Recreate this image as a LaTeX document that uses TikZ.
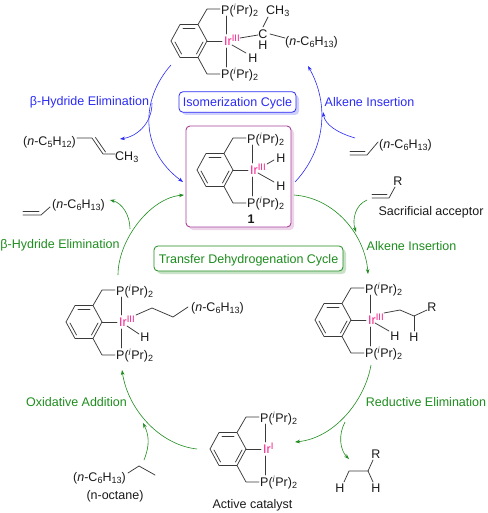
\documentclass[tikz,border=0pt]{standalone}
\usepackage{fontspec}
\setmainfont{Liberation Sans}
\usetikzlibrary{arrows.meta}
\definecolor{ink}{HTML}{3A3A3A}
\definecolor{txt}{HTML}{1A1A1A}
\definecolor{irpink}{HTML}{F0208C}
\definecolor{cblue}{HTML}{2B2BF5}
\definecolor{cgreen}{HTML}{1E8C1E}
\definecolor{cpurple}{HTML}{A8409C}
\newcommand{\sbs}[1]{\raisebox{-0.3ex}{\fontsize{9}{9}\selectfont #1}}
\newcommand{\phos}{P(\textsuperscript{\textit{i}}Pr)\sbs{2}}
\newcommand{\hex}{(\textit{n}-C\sbs{6}H\sbs{13})}
\newcommand{\irsup}[1]{\raisebox{0.55ex}{\fontsize{9.5}{9.5}\selectfont #1}}
\tikzset{
  x=1pt,y=-1pt,
  bond/.style={draw=ink,line width=0.75pt,line cap=round,line join=round},
  tc/.style={inner sep=0pt,anchor=base,yshift=-4.5pt,text=txt,font=\fontsize{12.5}{14}\selectfont},
  tw/.style={tc,anchor=base west},
  te/.style={tc,anchor=base east},
  irn/.style={tw,text=irpink},
  bluet/.style={tc,text=cblue},
  greent/.style={tc,text=cgreen},
  barc/.style={draw=cblue,line width=0.6pt,-{Stealth[length=5pt,width=3.6pt]}},
  garc/.style={draw=cgreen,line width=0.6pt,-{Stealth[length=5pt,width=3.6pt]}},
}
\newcommand{\pincer}[4]{%
\begin{scope}[shift={(#2,#3)}]
  \draw[bond] (-19,0) -- (-28,-16.5) -- (-46,-16.5) -- (-55,0) -- (-46,16.5) -- (-28,16.5) -- cycle;
  \draw[bond] (-31,-13) -- (-43,-13);
  \draw[bond] (-51,1) -- (-44.5,13);
  \draw[bond] (-23,1) -- (-29.5,13);
  \draw[bond] (-28,-16.5) -- (-19,-32) -- (-6,-32);
  \draw[bond] (-28,16.5) -- (-19,33) -- (-6,33);
  \draw[bond] (-19,0) -- (-4,0);
  \draw[bond] (0,-25) -- (0,-7);
  \draw[bond] (0,7) -- (0,26);
  \node[tw] (#1pt) at (-5,-31) {\phos};
  \node[tw] (#1pb) at (-5,33) {\phos};
  \node[irn] (#1ir) at (-2,0) {Ir\irsup{#4}};
\end{scope}}
\begin{document}
\begin{tikzpicture}
\useasboundingbox (0,0) rectangle (487,513);
% boxes
\fill[rounded corners=4pt,fill=cblue!22] (182,95) rectangle (299,115);
\fill[rounded corners=4pt,fill=cpurple!22] (189,129) rectangle (294,230);
\fill[rounded corners=4pt,fill=cgreen!25] (157,249) rectangle (346,274);
\node[draw=cblue,line width=0.8pt,rounded corners=4pt,fill=white,minimum width=117pt,minimum height=20.5pt,inner sep=0pt] (isobox) at (237.5,102) {};
\node[bluet] (isolab) at (237.5,102) {Isomerization Cycle};
\node[draw=cpurple,line width=0.9pt,rounded corners=4pt,fill=white,minimum width=105pt,minimum height=101pt,inner sep=0pt] (catbox) at (238.5,176.5) {};
\node[draw=cgreen,line width=0.8pt,rounded corners=4pt,fill=white,minimum width=189pt,minimum height=25pt,inner sep=0pt] (tdbox) at (248.5,258.5) {};
\node[greent] (tdlab) at (248.5,259) {Transfer Dehydrogenation Cycle};
% complexes
\pincer{a}{226}{41}{III}
\pincer{b}{252}{170}{III}
\pincer{c}{121}{322}{III}
\pincer{d}{370}{320}{III}
\pincer{e}{265}{449}{I}
% top complex ligands
\draw[bond] (240,38) -- (258,35);
\node[tc] (ac) at (263,34) {C};
\node[tc] (ah) at (263,45) {H};
\node[tw] (ach) at (266,10) {CH\sbs{3}};
\draw[bond] (263,27) -- (268,17);
\draw[bond] (270,34) -- (285,38);
\node[tw] (ahx) at (285,41) {\hex};
\draw[bond] (232,45) -- (246,53);
\node[tc] (aH) at (253,58) {H};
% centre
\draw[bond] (267,164) -- (274,160);
\draw[bond] (258,173) -- (274,182);
\node[tc] (bh1) at (281,158) {H};
\node[tc] (bh2) at (281,186) {H};
\node[tc,font=\fontsize{12.5}{14}\selectfont\bfseries] (one) at (251,219) {1};
% left complex
\draw[bond] (136,315) -- (152,308) -- (173,317) -- (188,307);
\node[tw] (chx) at (191,307) {\hex};
\draw[bond] (127,326) -- (139,334);
\node[tc] (cH) at (145,337) {H};
% right complex
\draw[bond] (384,313) -- (400,310) -- (414,316) -- (427,310);
\draw[bond] (414,316) -- (414,331);
\node[tc] (dR) at (432,307) {R};
\node[tc] (dH2) at (414,337) {H};
\draw[bond] (375,323) -- (389,331);
\node[tc] (dH) at (395,336) {H};
% pentene product
\node[tw] (pl) at (23,141) {(\textit{n}-C\sbs{5}H\sbs{12})};
\draw[bond] (77,138) -- (92,138) -- (103,154) -- (115,154);
\draw[bond] (95.5,137.5) -- (105.5,152);
\node[tw] (pch) at (115,156) {CH\sbs{3}};
% octene top right
\draw[bond] (350,155) -- (367,155) -- (378,142);
\draw[bond] (350,151.5) -- (365,151.5);
\node[tw] (ohx) at (379,144) {\hex};
% sacrificial acceptor
\draw[bond] (372,198) -- (389,198) -- (395,187);
\draw[bond] (372,194.5) -- (387,194.5);
\node[tc] (sR) at (398,181) {R};
\node[tc] (slab) at (431,211) {Sacrificial acceptor};
% octene left
\draw[bond] (23,215) -- (41,215) -- (50,207);
\draw[bond] (23,211.5) -- (39,211.5);
\node[tw] (lhx) at (52,204) {\hex};
% alkane product
\draw[bond] (373,460) -- (368,471) -- (349,471) -- (344,482);
\draw[bond] (368,471) -- (373,482);
\node[tc] (xR) at (376,454) {R};
\node[tc] (xH1) at (340,488) {H};
\node[tc] (xH2) at (376,488) {H};
% octane
\node[tw] (ohl) at (73,477) {\hex};
\draw[bond] (128,473) -- (139,466) -- (155,475);
\node[tc] (olab) at (115,495) {(n-octane)};
\node[tc] (alab) at (252.5,504) {Active catalyst};
% labels
\node[bluet] (l1) at (89.5,101) {β-Hydride Elimination};
\node[bluet] (l2) at (369.5,102) {Alkene Insertion};
\node[greent] (l3) at (60,244) {β-Hydride Elimination};
\node[greent] (l4) at (411.5,246) {Alkene Insertion};
\node[greent] (l5) at (76.5,402) {Oxidative Addition};
\node[greent] (l6) at (426,402) {Reductive Elimination};
% connector ends
\coordinate (b1s) at (171,65); \coordinate (b1e) at (183,182);
\coordinate (b2s) at (152,103); \coordinate (b2e) at (120,139);
\coordinate (b3s) at (295,182); \coordinate (b3e) at (308,66);
\coordinate (b4s) at (355,138); \coordinate (b4e) at (323,112);
\coordinate (g1s) at (294,195); \coordinate (g1e) at (368,274);
\coordinate (g2s) at (367,200); \coordinate (g2e) at (356,232);
\coordinate (g3s) at (371,365); \coordinate (g3e) at (295,442);
\coordinate (g4s) at (345,422); \coordinate (g4e) at (349,459);
\coordinate (g5s) at (197,449); \coordinate (g5e) at (122,370);
\coordinate (g6s) at (144,460); \coordinate (g6e) at (143,423);
\coordinate (g7s) at (118,275); \coordinate (g7e) at (184,195);
\coordinate (g8s) at (130,229); \coordinate (g8e) at (110,200);
% blue arrows
\draw[barc] (b1s) .. controls (140,100) and (140,150) .. (b1e);
\draw[barc] (b2s) .. controls (152,125) and (135,137) .. (b2e);
\draw[barc] (b3s) .. controls (325,150) and (330,105) .. (b3e);
\draw[barc] (b4s) .. controls (338,133) and (325,125) .. (b4e);
% green arrows
\draw[garc] (g1s) .. controls (335,198) and (365,235) .. (g1e);
\draw[garc] (g2s) .. controls (355,205) and (352,220) .. (g2e);
\draw[garc] (g3s) .. controls (365,400) and (335,438) .. (g3e);
\draw[garc] (g4s) .. controls (338,435) and (340,450) .. (g4e);
\draw[garc] (g5s) .. controls (160,445) and (128,410) .. (g5e);
\draw[garc] (g6s) .. controls (150,445) and (149,435) .. (g6e);
\draw[garc] (g7s) .. controls (118,240) and (150,198) .. (g7e);
\draw[garc] (g8s) .. controls (130,215) and (122,203) .. (g8e);
\end{tikzpicture}
\end{document}
